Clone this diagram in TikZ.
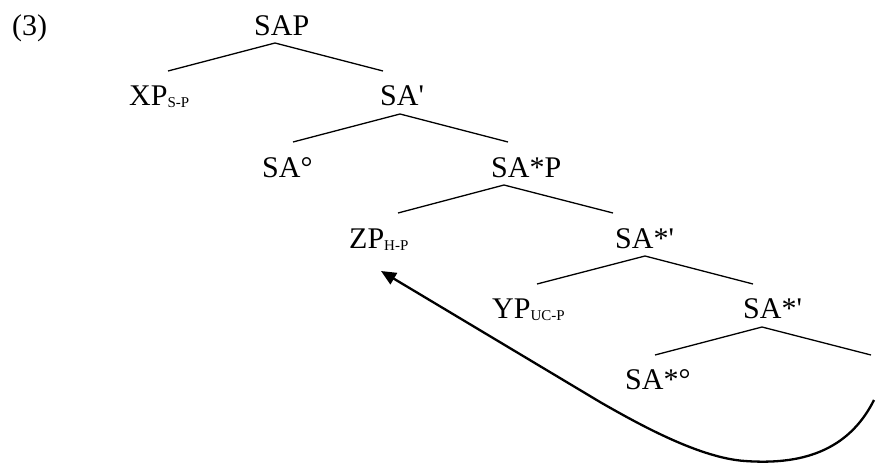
\documentclass[tikz,border=0pt]{standalone}
\usepackage{fontspec}
\setmainfont{Liberation Serif}
\usetikzlibrary{arrows.meta}
\newcommand{\lbsub}[1]{\raisebox{-2pt}{\fontsize{15}{15}\selectfont #1}}
\newcommand{\pr}{\textquotesingle}
\begin{document}
\begin{tikzpicture}[x=1pt,y=-1pt,
  lab/.style={anchor=base west,inner sep=0pt,font=\fontsize{30}{32}\selectfont},
  branch/.style={line width=1.3pt},
  movearrow/.style={line width=2.3pt,-{Triangle[length=15pt,width=13pt]}}]
\useasboundingbox (0,0) rectangle (876,464);
% labels
\node[lab] (ex) at (12,35) {(3)};
\node[lab] (sap) at (254,35) {SAP};
\node[lab] (xp) at (129,105) {XP\lbsub{S-P}};
\node[lab] (sa1) at (380,105) {SA\pr};
\node[lab] (sa0) at (262,177) {SA°};
\node[lab] (sastp) at (491,177) {SA*P};
\node[lab] (zp) at (349,248) {ZP\lbsub{H-P}};
\node[lab] (sast1) at (615,248) {SA*\pr};
\node[lab] (yp) at (492,318) {YP\lbsub{UC-P}};
\node[lab] (sast2) at (743,318) {SA*\pr};
\node[lab] (sast0) at (625,389) {SA*°};
% branch points
\coordinate (a0) at (275,43);  \coordinate (l0) at (168,71);  \coordinate (r0) at (383,71);
\coordinate (a1) at (400,114); \coordinate (l1) at (293,142); \coordinate (r1) at (508,142);
\coordinate (a2) at (504,185); \coordinate (l2) at (398,213); \coordinate (r2) at (613,213);
\coordinate (a3) at (645,256); \coordinate (l3) at (537,284); \coordinate (r3) at (753,284);
\coordinate (a4) at (762,327); \coordinate (l4) at (655,355); \coordinate (r4) at (871,355);
\draw[branch] (l0) -- (a0) -- (r0);
\draw[branch] (l1) -- (a1) -- (r1);
\draw[branch] (l2) -- (a2) -- (r2);
\draw[branch] (l3) -- (a3) -- (r3);
\draw[branch] (l4) -- (a4) -- (r4);
% movement arrow
\coordinate (trace) at (874,400);
\coordinate (bot) at (745,461);
\coordinate (mid) at (600,402);
\coordinate (goal) at (381,271);
\draw[movearrow] (trace) .. controls (848,452) and (800,465) .. (bot)
  .. controls (700,458) and (640,425) .. (mid) -- (goal);
\end{tikzpicture}
\end{document}
